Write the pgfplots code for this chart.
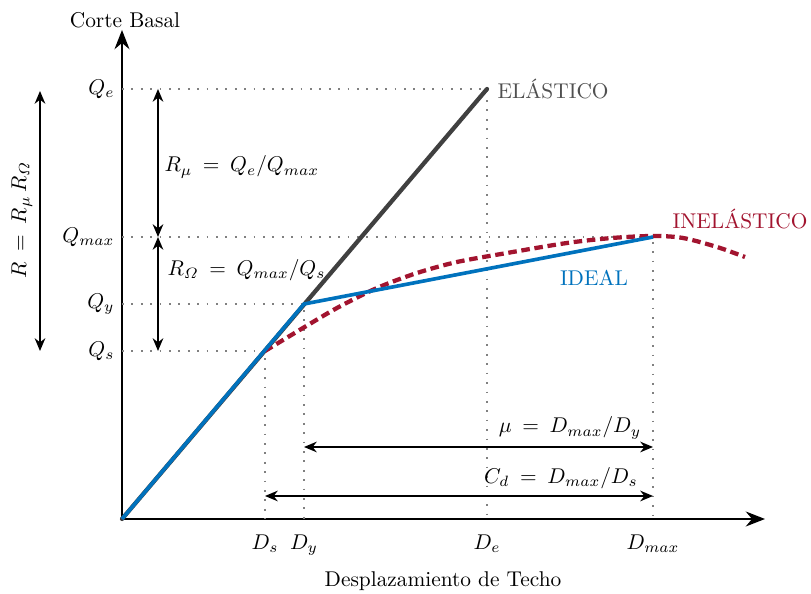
\documentclass[border=0pt]{standalone}
\usepackage{amsmath}
\usepackage{pgfplots}
\pgfplotsset{compat=1.18}
\usetikzlibrary{arrows.meta}
\definecolor{cblue}{RGB}{0,114,189}
\definecolor{cred}{RGB}{162,20,47}
\definecolor{cgray}{RGB}{64,64,64}
\definecolor{tgray}{RGB}{80,80,80}
\begin{document}
\begin{tikzpicture}
\begin{axis}[
  x=0.468pt, y=0.468pt,
  xmin=0, xmax=643, ymin=0, ymax=489,
  axis lines=left,
  axis line style={line width=0.9pt, -{Stealth[length=9pt,width=7pt]}},
  clip=false,
  xtick={143,182,365,531}, xticklabels={$D_s$,$D_y$,$D_e$,$D_{max}$},
  ytick={168,215,282,430}, yticklabels={$Q_s$,$Q_y$,$Q_{max}$,$Q_e$},
  major tick length=0pt,
  xticklabel style={yshift=-4pt},
  tick style={draw=none},
]
% guide lines
\pgfplotsset{guide/.style={gray, line width=0.8pt, dash pattern=on 0.8pt off 3.6pt}}
\addplot[guide] coordinates {(0,430) (365,430) (365,0)};
\addplot[guide] coordinates {(0,282) (531,282) (531,0)};
\addplot[guide] coordinates {(0,215) (182,215) (182,0)};
\addplot[guide] coordinates {(0,168) (143,168) (143,0)};
% elastic
\addplot[cgray, line width=2pt, line cap=round] coordinates {(0,0) (365,430)};
% inelastic
\addplot[cred, line width=1pt] coordinates {(0,0) (143,168)};
\addplot[cred, line width=2pt, dash pattern=on 4pt off 2.2pt, smooth] coordinates {
 (143,168) (181,191) (215,211) (255,231) (295,246) (335,257) (385,266) (445,276) (490,281) (531,283) (561,281) (595,272) (623,262)};
% ideal
\addplot[cblue, line width=1.7pt, line join=round] coordinates {(0,0) (182,215) (531,282)};
% measurement arrows
\pgfplotsset{meas/.style={black, line width=0.7pt, {Stealth[length=6pt,width=5pt]}-{Stealth[length=6pt,width=5pt]}}}
\addplot[meas] coordinates {(36,430) (36,282)};
\addplot[meas] coordinates {(36,282) (36,168)};
\addplot[meas] coordinates {(-82,428) (-82,168)};
\addplot[meas] coordinates {(182,72) (531,72)};
\addplot[meas] coordinates {(143,23) (531,23)};
% labels
\node[anchor=west] at (axis cs:35,352) {$R_\mu\:=\:Q_e/Q_{max}$};
\node[anchor=west] at (axis cs:38,249) {$R_{\varOmega}\:=\:Q_{max}/Q_s$};
\node[rotate=90] at (axis cs:-100,299) {$R\:=\:R_\mu\,R_{\varOmega}$};
\node at (axis cs:448,91) {$\mu\:=\:D_{max}/D_y$};
\node at (axis cs:439,41) {$C_d\:=\:D_{max}/D_s$};
\node[anchor=west, text=tgray] at (axis cs:368,430) {ELÁSTICO};
\node[text=cred] at (axis cs:618,300) {INELÁSTICO};
\node[text=cblue] at (axis cs:472,241) {IDEAL};
\node at (axis cs:3,499) {Corte Basal};
\node at (axis cs:321,-62) {Desplazamiento de Techo};
\coordinate (bl) at (axis cs:-122,-75);
\coordinate (tr) at (axis cs:689,519);
\end{axis}
\pgfresetboundingbox
\useasboundingbox (bl) rectangle (tr);
\end{tikzpicture}
\end{document}
